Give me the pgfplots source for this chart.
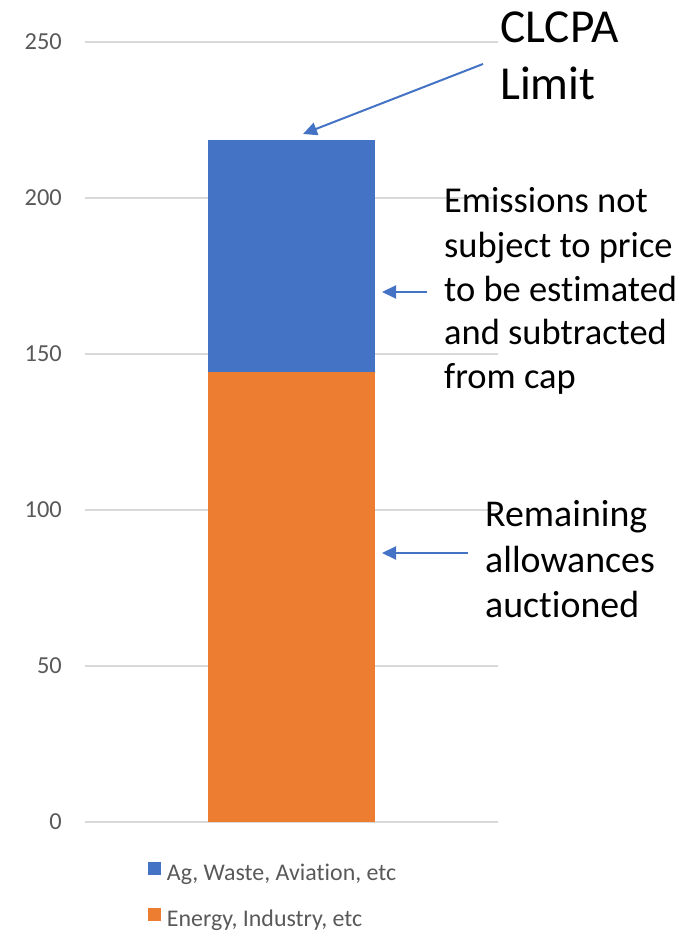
\documentclass[border=0pt]{standalone}
\usepackage{fontspec}
\setmainfont{Carlito}[Ligatures={NoCommon}]
\usepackage{pgfplots}
\pgfplotsset{compat=1.18}
\usetikzlibrary{arrows.meta}
\definecolor{cblue}{HTML}{4472C4}
\definecolor{corange}{HTML}{ED7D31}
\definecolor{cgrid}{HTML}{D9D9D9}
\definecolor{ctext}{HTML}{595959}
\begin{document}
\begin{tikzpicture}
\path[use as bounding box] (0,0) rectangle (697bp,931bp);
\begin{axis}[
  at={(85bp,109bp)}, anchor=south west,
  scale only axis, width=413bp, height=780bp,
  ymin=0, ymax=250, ytick={0,50,...,250},
  xmin=-1, xmax=1, xtick=\empty,
  axis line style={draw=none},
  major tick length=0pt,
  ymajorgrids, grid style={color=cgrid, line width=1.3bp},
  /pgf/number format/assume math mode=true,
  yticklabel style={font=\fontsize{24.5}{24}\selectfont, color=ctext, inner sep=0pt, xshift=-23bp},
  ybar stacked, bar width=167bp, bar shift=0pt,
  legend style={at={(0.1525,-0.051)}, anchor=north west, draw=none, fill=none,
    inner sep=0pt, outer sep=0pt, row sep=22bp, column sep=6bp,
    font=\fontsize{24}{24}\selectfont, text=ctext,
    nodes={inner sep=0pt, text height=17bp, text depth=6bp}},
  legend cell align=left,
  legend image code/.code={\fill[#1] (0bp,0bp) rectangle (13bp,13bp);},
]
\addplot[fill=corange, draw=none, forget plot] coordinates {(0,144.3)};
\addplot[fill=cblue, draw=none, forget plot] coordinates {(0,74.3)};
\addlegendimage{fill=cblue, draw=none}
\addlegendentry{Ag, Waste, Aviation, etc}
\addlegendimage{fill=corange, draw=none}
\addlegendentry{Energy, Industry, etc}
\end{axis}
\begin{scope}[every node/.style={inner sep=0pt, anchor=base west}]
\node[font=\fontsize{47.5}{56}\selectfont] at (500bp,888bp) {CLCPA};
\node[font=\fontsize{47.5}{56}\selectfont] at (500bp,831bp) {Limit};
\node[font=\fontsize{36.6}{44}\selectfont] at (444bp,718bp) {Emissions not};
\node[font=\fontsize{36.6}{44}\selectfont] at (444bp,673.5bp) {subject to price};
\node[font=\fontsize{36.6}{44}\selectfont] at (444bp,629.5bp) {to be estimated};
\node[font=\fontsize{36.6}{44}\selectfont] at (444bp,586bp) {and subtracted};
\node[font=\fontsize{36.6}{44}\selectfont] at (444bp,542bp) {from cap};
\node[font=\fontsize{38}{45}\selectfont] at (485bp,404bp) {Remaining};
\node[font=\fontsize{38}{45}\selectfont] at (485bp,358bp) {allowances};
\node[font=\fontsize{38}{45}\selectfont] at (485bp,313bp) {auctioned};
\end{scope}
\begin{scope}[cblue, line width=2bp, -{Triangle[length=14bp,width=13bp]}]
\draw (483bp,867bp) -- (303bp,797bp);
\draw (427bp,639bp) -- (382bp,639bp);
\draw (468bp,378bp) -- (382bp,378bp);
\end{scope}
\end{tikzpicture}
\end{document}
